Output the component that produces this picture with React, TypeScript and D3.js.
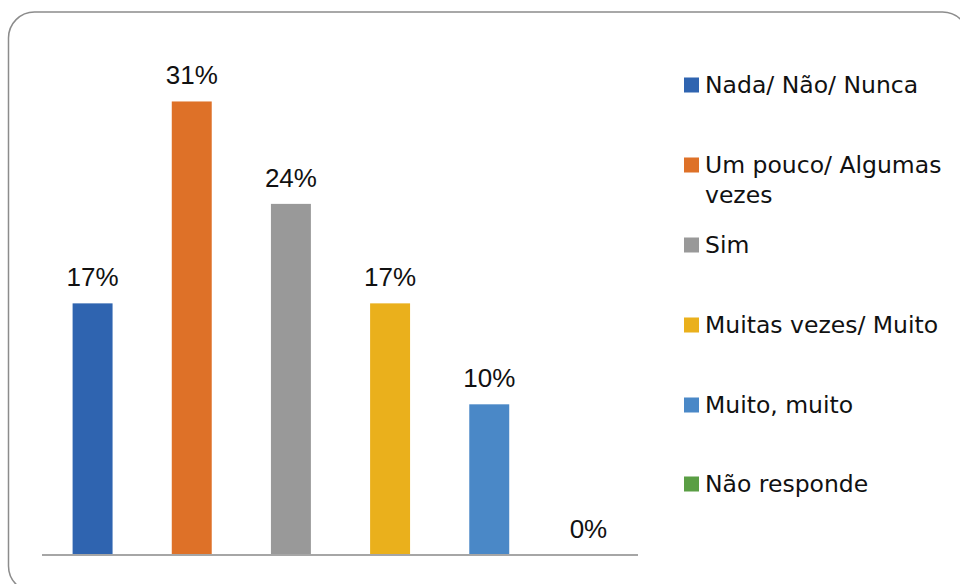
import React from "react";
import * as d3 from "d3";

const categories = [
  "Nada/ Não/ Nunca",
  "Um pouco/ Algumas vezes",
  "Sim",
  "Muitas vezes/ Muito",
  "Muito, muito",
  "Não responde",
];
const values = [0.172, 0.31, 0.24, 0.172, 0.103, 0];
const colors = ["#2F64B0", "#DE7128", "#999999", "#EAB01C", "#4A88C7", "#5A9E44"];
const legendLines = [
  ["Nada/ Não/ Nunca"],
  ["Um pouco/ Algumas", "vezes"],
  ["Sim"],
  ["Muitas vezes/ Muito"],
  ["Muito, muito"],
  ["Não responde"],
];

const W = 960;
const H = 584;
const baseY = 555;
const pxPerUnit = 1463;

export default function App() {
  const x = d3
    .scaleBand<string>()
    .domain(categories)
    .range([43, 638])
    .paddingInner(0.597)
    .paddingOuter(0.2985);
  const y = d3
    .scaleLinear()
    .domain([0, 0.35])
    .range([baseY, baseY - 0.35 * pxPerUnit]);
  const fmt = (v: number) => `${Math.round(v * 100)}%`;
  const legendBase = [93, 173, 253, 333, 413, 492];

  return (
    <svg
      width={W}
      height={H}
      style={{ position: "absolute", left: 0, top: 0, background: "#fff" }}
    >
      <rect x={0} y={0} width={W} height={H} fill="#fff" />
      <rect
        x={8.5}
        y={12}
        width={960}
        height={580}
        rx={26}
        ry={26}
        fill="#fff"
        stroke="#8C8C8C"
        strokeWidth={1.5}
      />
      {categories.map((c, i) => (
        <rect
          key={c}
          x={x(c)}
          y={y(values[i])}
          width={x.bandwidth()}
          height={baseY - y(values[i])}
          fill={colors[i]}
        />
      ))}
      <line x1={42} x2={638} y1={baseY} y2={baseY} stroke="#A6A6A6" strokeWidth={2} />
      {categories.map((c, i) => (
        <text
          key={"l" + c}
          x={(x(c) as number) + x.bandwidth() / 2}
          y={y(values[i]) - 17}
          textAnchor="middle"
          fontFamily="'Liberation Sans', Arial, sans-serif"
          fontSize={26}
          fill="#111"
        >
          {fmt(values[i])}
        </text>
      ))}
      {categories.map((c, i) => (
        <g key={"lg" + c}>
          <rect x={684} y={legendBase[i] - 15.5} width={15} height={15} fill={colors[i]} />
          {legendLines[i].map((ln, j) => (
            <text
              key={j}
              x={705}
              y={legendBase[i] + j * 30}
              fontFamily="'DejaVu Sans', Verdana, sans-serif"
              fontSize={23.5}
              fill="#111"
            >
              {ln}
            </text>
          ))}
        </g>
      ))}
    </svg>
  );
}
